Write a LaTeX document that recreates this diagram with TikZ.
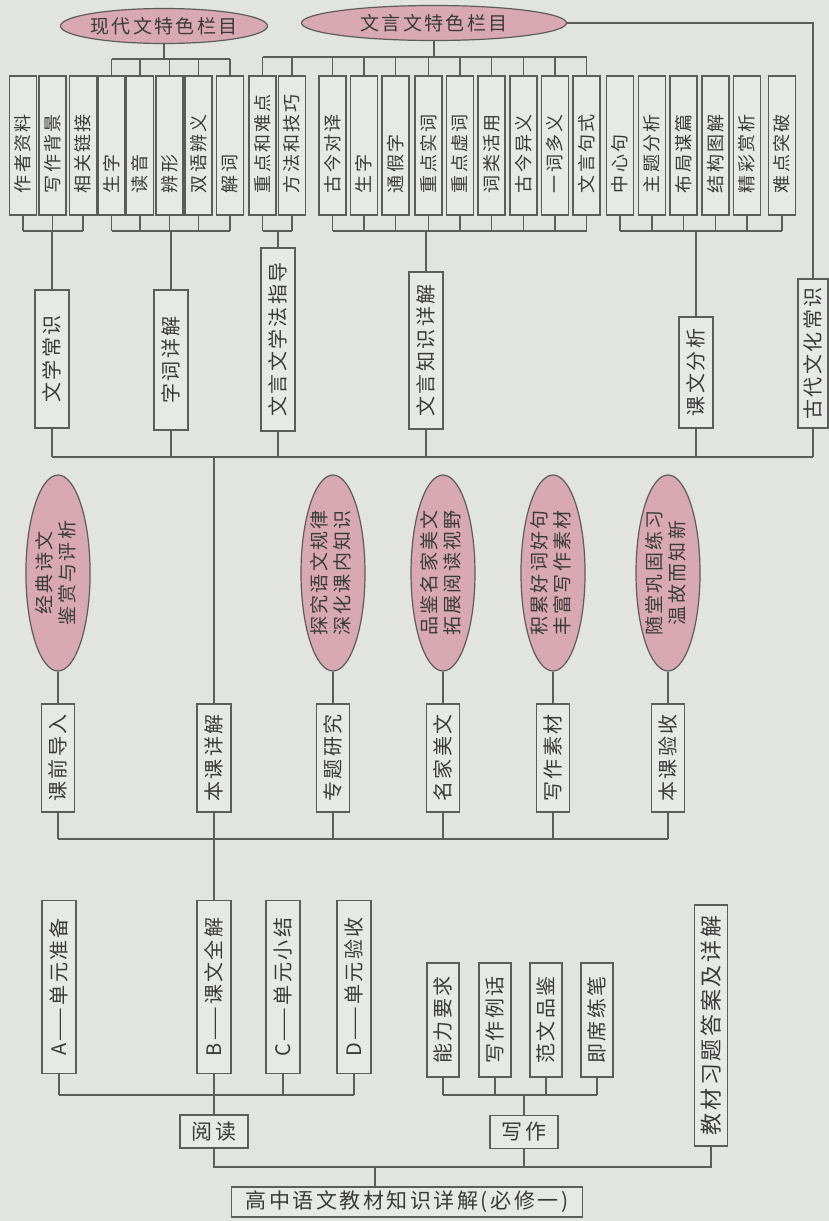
\documentclass[tikz,border=0pt]{standalone}
\usepackage{fontspec}
\setmainfont[LetterSpace=12]{Noto Sans CJK SC}
\usepackage{graphicx}
\usetikzlibrary{shapes.geometric}
\definecolor{bggray}{HTML}{E2E4E1}
\definecolor{boxfill}{HTML}{E7E9E6}
\definecolor{tagfill}{HTML}{D8A9B2}
\definecolor{stroke}{HTML}{5C5C5C}
\definecolor{txt}{HTML}{3A3A3A}
% vertical text, starting at the bottom of a leaf box
\newcommand{\colitem}[1]{\rotatebox{90}{\makebox[69.5pt][l]{\hspace{11pt}#1}}}
% vertical text, centred
\newcommand{\vtext}[1]{\rotatebox{90}{#1}}
% two vertical lines of text
\newcommand{\vpair}[2]{\rotatebox{90}{\begin{tabular}{@{}c@{}}#1\\#2\end{tabular}}}

\begin{document}
\begin{tikzpicture}[
  x=0.5pt, y=-0.5pt,
  every node/.style={text=txt},
  leaf/.style={draw=stroke, line width=0.6pt, fill=boxfill, inner sep=0pt,
     minimum width=13.5pt, minimum height=69.5pt, font=\fontsize{9}{10}\selectfont},
  sub/.style={draw=stroke, line width=0.6pt, fill=boxfill, inner sep=0pt,
     minimum width=17pt, font=\fontsize{10}{11}\selectfont},
  tag/.style={ellipse, draw=stroke, line width=0.6pt, fill=tagfill, inner sep=0pt,
     font=\fontsize{9.5}{11}\selectfont},
  hbox/.style={draw=stroke, line width=0.6pt, fill=boxfill, inner sep=0pt,
     minimum height=16.5pt, font=\fontsize{10.5}{11}\selectfont},
  link/.style={draw=stroke, line width=0.6pt},
]
% --- page ---
\fill[bggray] (0,0) rectangle (829,1221);
\useasboundingbox (0,0) rectangle (829,1221);
% --- top tags ---
\node[tag, inner xsep=-4pt, minimum width=103.5pt, minimum height=17.5pt] (xdw) at (164,26) {现代文特色栏目};
\node[tag, inner xsep=-4pt, minimum width=132.5pt, minimum height=17.5pt] (wyw) at (434,23) {文言文特色栏目};
% --- leaves ---
\foreach \x/\n/\t in {23/l1/作者资料, 52.5/l2/写作背景, 83/l3/相关链接,
    111.5/l4/生字, 140/l5/读音, 169.5/l6/辨形, 198.5/l7/双语辨义, 230/l8/解词,
    262.5/l9/重点和难点, 292/l10/方法和技巧,
    332.5/l11/古今对译, 364/l12/生字, 395.5/l13/通假字, 428.5/l14/重点实词,
    460/l15/重点虚词, 491.5/l16/词类活用, 523.5/l17/古今异义, 555/l18/一词多义,
    586.5/l19/文言句式,
    620/l20/中心句, 652/l21/主题分析, 683.5/l22/布局谋篇, 715.5/l23/结构图解,
    747/l24/精彩赏析, 782/l25/难点突破}
  \node[leaf] (\n) at (\x,145.5) {\colitem{\t}};
% --- tag bars ---
\coordinate (abar) at (0,59);
\coordinate (bbar) at (0,57);
\draw[link] (xdw.south) -- (xdw.south |- abar);
\foreach \n in {l4,l5,l6,l7,l8} \draw[link] (\n.north) -- (\n.north |- abar);
\draw[link] (l4.north |- abar) -- (l8.north |- abar);
\draw[link] (wyw.south) -- (wyw.south |- bbar);
\foreach \n in {l9,l10,l11,l12,l13,l14,l15,l16,l17,l18,l19} \draw[link] (\n.north) -- (\n.north |- bbar);
\draw[link] (l9.north |- bbar) -- (l19.north |- bbar);
% --- second row ---
\node[sub, minimum height=69pt]   (wxcs) at (52,359)    {\vtext{文学常识}};
\node[sub, minimum height=70pt]   (zcxj) at (171,360)   {\vtext{字词详解}};
\node[sub, minimum height=91.5pt] (xfzd) at (278,339.5) {\vtext{文言文学法指导}};
\node[sub, minimum height=78.5pt] (zsxj) at (426,350.5) {\vtext{文言知识详解}};
\node[sub, minimum height=55.5pt] (kwfx) at (696,372.5) {\vtext{课文分析}};
\node[sub, minimum height=74.5pt, minimum width=15pt] (gdwh) at (813,353.5) {\vtext{古代文化常识}};
% --- group bars ---
\coordinate (gbar) at (0,231);
\foreach \n in {l1,l2,l3,l4,l5,l6,l7,l8,l9,l10,l11,l12,l13,l14,l15,l16,l17,l18,l19,l20,l21,l22,l23,l24,l25}
  \draw[link] (\n.south) -- (\n.south |- gbar);
\draw[link] (l1.south |- gbar) -- (l3.south |- gbar);
\draw[link] (l4.south |- gbar) -- (l8.south |- gbar);
\draw[link] (l9.south |- gbar) -- (l10.south |- gbar);
\draw[link] (l11.south |- gbar) -- (l19.south |- gbar);
\draw[link] (l20.south |- gbar) -- (l25.south |- gbar);
\foreach \n in {wxcs,zcxj,xfzd,zsxj,kwfx} \draw[link] (\n.north |- gbar) -- (\n.north);
\draw[link] (wyw.east) -| (gdwh.north);
% --- middle row ---
\foreach \x/\e/\b/\s/\t/\u in {58/el1/kqdr/课前导入/经典诗文/鉴赏与评析,
    333/el2/ztyj/专题研究/探究语文规律/深化课内知识,
    443/el3/mjmw/名家美文/品鉴名家美文/拓展阅读视野,
    553/el4/xzsc/写作素材/积累好词好句/丰富写作素材,
    668/el5/bkys/本课验收/随堂巩固练习/温故而知新} {
  \node[tag, minimum width=31pt, minimum height=98pt] (\e) at (\x,573) {\vpair{\t}{\u}};
  \node[sub, minimum height=54pt, minimum width=16.5pt] (\b) at (\x,758) {\vtext{\s}};
  \draw[link] (\e.south) -- (\b.north);
}
\node[sub, minimum height=54pt, minimum width=17pt] (bkxj) at (214,758) {\vtext{本课详解}};
% --- main bar ---
\coordinate (mbar) at (0,457);
\foreach \n in {wxcs,zcxj,xfzd,zsxj,kwfx,gdwh} \draw[link] (\n.south) -- (\n.south |- mbar);
\draw[link] (wxcs.south |- mbar) -- (gdwh.south |- mbar);
\draw[link] (bkxj.north) -- (bkxj.north |- mbar);
% --- lower rows ---
\foreach \x/\n/\t in {59/ua/A——单元准备, 214/ub/B——课文全解, 283/uc/C——单元小结, 354/ud/D——单元验收}
  \node[sub, minimum height=86.5pt] (\n) at (\x,987) {\vtext{\t}};
\foreach \x/\n/\t in {443/wa/能力要求, 495/wb/写作例话, 546/wc/范文品鉴, 597/wd/即席练笔}
  \node[sub, minimum height=57pt, minimum width=16pt] (\n) at (\x,1020) {\vtext{\t}};
\node[sub, minimum height=120.5pt, minimum width=16.5pt, font=\fontsize{11}{12}\selectfont] (jcxt) at (711,1025.5) {\vtext{教材习题答案及详解}};
\node[hbox, minimum width=34pt] (yd) at (214,1131.5) {阅\hspace{2pt}读};
\node[hbox, minimum width=34pt] (xz) at (524,1132) {写\hspace{2pt}作};
\node[hbox, minimum width=175.5pt, minimum height=15pt] (root) at (407,1202) {高中语文教材知识详解(必修一)};
% --- middle bar ---
\coordinate (dbar) at (0,839);
\foreach \n in {kqdr,bkxj,ztyj,mjmw,xzsc,bkys} \draw[link] (\n.south) -- (\n.south |- dbar);
\draw[link] (kqdr.south |- dbar) -- (bkys.south |- dbar);
\draw[link] (ub.north |- dbar) -- (ub.north);
% --- lower bars ---
\coordinate (lbar) at (0,1095);
\foreach \n in {ua,ub,uc,ud,wa,wb,wc,wd} \draw[link] (\n.south) -- (\n.south |- lbar);
\draw[link] (ua.south |- lbar) -- (ud.south |- lbar);
\draw[link] (wa.south |- lbar) -- (wd.south |- lbar);
\draw[link] (yd.north |- lbar) -- (yd.north);
\draw[link] (xz.north |- lbar) -- (xz.north);
% --- root bar ---
\coordinate (rbar) at (375,1167);
\draw[link] (yd.south) -- (yd.south |- rbar) -- (jcxt.south |- rbar) -- (jcxt.south);
\draw[link] (xz.south) -- (xz.south |- rbar);
\draw[link] (rbar) -- (rbar |- root.north);
\end{tikzpicture}
\end{document}
